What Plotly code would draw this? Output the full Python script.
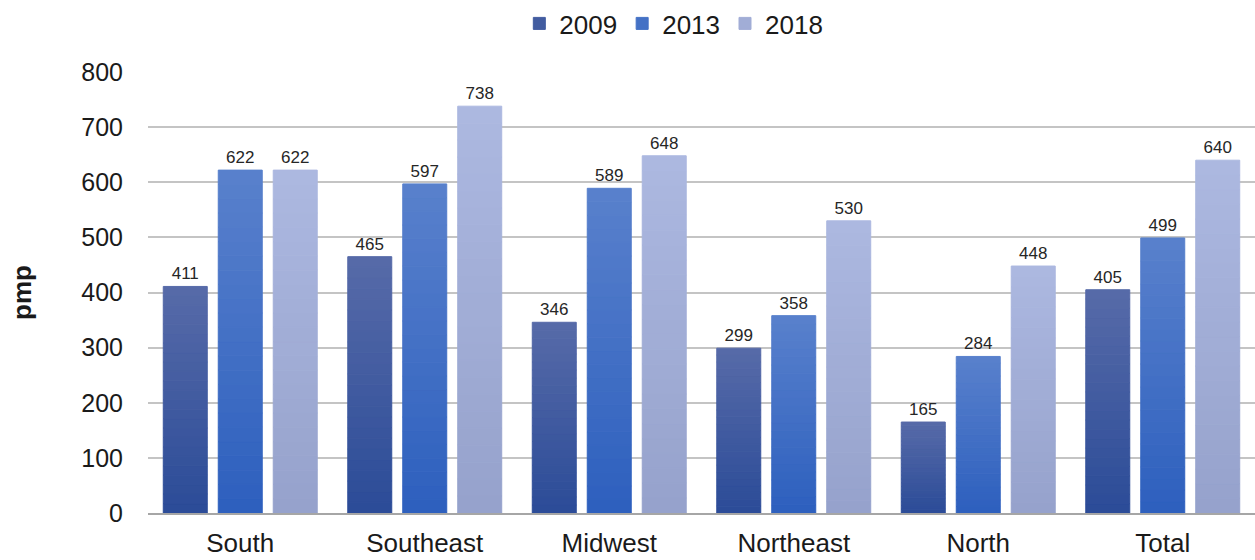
import plotly.graph_objects as go

# Regional rates (pmp) per survey year
regions = ["South", "Southeast", "Midwest", "Northeast", "North", "Total"]
years = ["2009", "2013", "2018"]
values_2009 = [411, 465, 346, 299, 165, 405]
values_2013 = [622, 597, 589, 358, 284, 499]
values_2018 = [622, 738, 648, 530, 448, 640]
y_ticks = [0, 100, 200, 300, 400, 500, 600, 700, 800]

# Bottom / top colours of the vertical gradient used for each year
gradients = {
    "2009": ((44, 76, 152), (86, 106, 168)),
    "2013": ((46, 96, 190), (88, 128, 204)),
    "2018": ((150, 162, 204), (172, 184, 224)),
}
series = {"2009": values_2009, "2013": values_2013, "2018": values_2018}

FONT = "Liberation Sans, Arial, sans-serif"
SLICES = 24


def mix(c0, c1, t):
    return "rgb({},{},{})".format(*[round(a + (b - a) * t) for a, b in zip(c0, c1)])


fig = go.Figure()
for year in years:
    vals = series[year]
    bottom, top = gradients[year]
    for i in range(SLICES):
        last = i == SLICES - 1
        colour = mix(bottom, top, i / (SLICES - 1))
        fig.add_trace(go.Bar(
            x=regions,
            y=[v / SLICES for v in vals],
            base=[v * i / SLICES for v in vals],
            offsetgroup=year,
            name=year,
            legendgroup=year,
            showlegend=(i == SLICES // 2),
            marker=dict(color=colour, line=dict(width=1, color=colour)),
            text=[str(v) for v in vals] if last else None,
            textposition="outside" if last else "none",
            textfont=dict(size=17, color="#262626", family=FONT),
            cliponaxis=False,
            hoverinfo="skip" if not last else None,
        ))

fig.update_layout(
    width=1255,
    height=560,
    margin=dict(l=148, r=0, t=72, b=47, autoexpand=False),
    paper_bgcolor="white",
    plot_bgcolor="white",
    barmode="group",
    bargap=0.106,
    bargroupgap=0.2,
    font=dict(family=FONT, color="#1a1a1a"),
    legend=dict(
        orientation="h",
        x=0.475,
        xanchor="center",
        y=1.0,
        yref="container",
        yanchor="top",
        font=dict(size=26, family=FONT, color="#1a1a1a"),
        itemwidth=30,
        tracegroupgap=0,
        bgcolor="rgba(0,0,0,0)",
    ),
    xaxis=dict(
        automargin=False,
        showgrid=False,
        showline=True,
        linecolor="#a6a6a6",
        linewidth=1.5,
        ticks="",
        tickfont=dict(size=26, family=FONT, color="#1a1a1a"),
        ticklabelstandoff=6,
    ),
    yaxis=dict(
        automargin=False,
        range=[0, 800],
        tickvals=y_ticks,
        showgrid=True,
        gridcolor="#c4c4c4",
        gridwidth=1.5,
        zeroline=False,
        ticks="",
        tickfont=dict(size=25, family=FONT, color="#1a1a1a"),
        ticklabelstandoff=24,
        title=dict(text="<b>pmp</b>", font=dict(size=26, family=FONT, color="#1a1a1a"), standoff=42),
    ),
)

fig.write_html("out.html")
